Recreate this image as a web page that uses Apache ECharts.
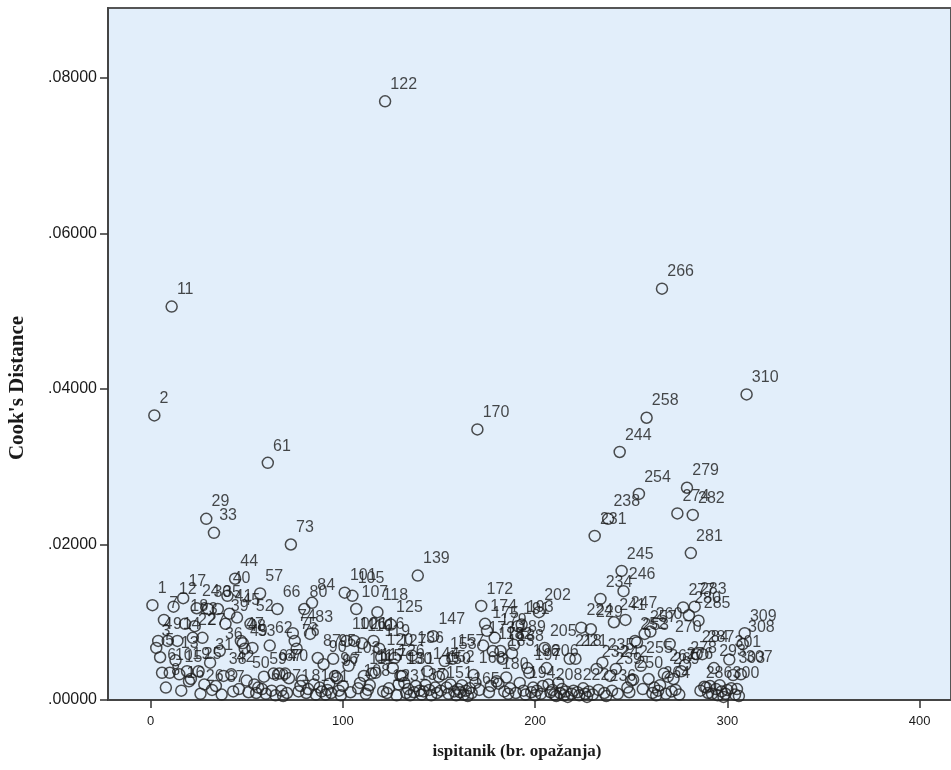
<!DOCTYPE html>
<html>
<head>
<meta charset="utf-8">
<script src="https://cdn.jsdelivr.net/npm/echarts@6/dist/echarts.min.js"></script>
<style>
  html, body { margin: 0; padding: 0; background: #fff; }
  #chart { width: 951px; height: 770px; }
</style>
</head>
<body>
<div id="chart"></div>
<script>
// Cook's distance per case (case 1 .. 310)
var cookD = [
  0.0122, 0.0366, 0.0067, 0.0076, 0.0055, 0.0035, 0.0103, 0.0016, 0.0076, 0.0035,
  0.0506, 0.0120, 0.0051, 0.0076, 0.0033, 0.0012, 0.0131, 0.0098, 0.0037, 0.0024,
  0.0027, 0.0080, 0.0095, 0.0118, 0.0037, 0.0008, 0.0080, 0.0020, 0.0233, 0.0117,
  0.0048, 0.0013, 0.0215, 0.0018, 0.0117, 0.0063, 0.0007, 0.0031, 0.0098, 0.0134,
  0.0111, 0.0033, 0.0011, 0.0156, 0.0106, 0.0014, 0.0076, 0.0073, 0.0066, 0.0025,
  0.0010, 0.0098, 0.0067, 0.0020, 0.0009, 0.0016, 0.0137, 0.0014, 0.0030, 0.0008,
  0.0305, 0.0070, 0.0012, 0.0034, 0.0006, 0.0117, 0.0034, 0.0012, 0.0005, 0.0034,
  0.0009, 0.0028, 0.0200, 0.0086, 0.0076, 0.0066, 0.0011, 0.0018, 0.0025, 0.0117,
  0.0009, 0.0014, 0.0085, 0.0125, 0.0020, 0.0007, 0.0054, 0.0016, 0.0011, 0.0046,
  0.0007, 0.0013, 0.0021, 0.0009, 0.0053, 0.0031, 0.0028, 0.0012, 0.0006, 0.0018,
  0.0138, 0.0076, 0.0044, 0.0010, 0.0134, 0.0076, 0.0117, 0.0015, 0.0022, 0.0073,
  0.0031, 0.0008, 0.0013, 0.0019, 0.0034, 0.0076, 0.0035, 0.0113, 0.0066, 0.0055,
  0.0011, 0.0770, 0.0009, 0.0015, 0.0097, 0.0041, 0.0054, 0.0006, 0.0020, 0.0031,
  0.0031, 0.0022, 0.0009, 0.0014, 0.0006, 0.0057, 0.0010, 0.0018, 0.0160, 0.0012,
  0.0007, 0.0011, 0.0019, 0.0037, 0.0013, 0.0006, 0.0082, 0.0016, 0.0009, 0.0030,
  0.0012, 0.0033, 0.0050, 0.0016, 0.0008, 0.0020, 0.0053, 0.0011, 0.0006, 0.0014,
  0.0010, 0.0019, 0.0007, 0.0012, 0.0005, 0.0015, 0.0009, 0.0032, 0.0022, 0.0348,
  0.0013, 0.0121, 0.0070, 0.0098, 0.0089, 0.0010, 0.0018, 0.0063, 0.0080, 0.0024,
  0.0021, 0.0063, 0.0053, 0.0011, 0.0029, 0.0008, 0.0015, 0.0060, 0.0071, 0.0009,
  0.0095, 0.0022, 0.0097, 0.0012, 0.0007, 0.0041, 0.0035, 0.0010, 0.0016, 0.0006,
  0.0012, 0.0113, 0.0008, 0.0018, 0.0067, 0.0041, 0.0020, 0.0010, 0.0013, 0.0007,
  0.0005, 0.0022, 0.0009, 0.0014, 0.0006, 0.0011, 0.0004, 0.0053, 0.0008, 0.0012,
  0.0053, 0.0010, 0.0006, 0.0093, 0.0015, 0.0008, 0.0004, 0.0011, 0.0091, 0.0007,
  0.0211, 0.0040, 0.0013, 0.0130, 0.0048, 0.0009, 0.0005, 0.0233, 0.0031, 0.0012,
  0.0100, 0.0040, 0.0008, 0.0319, 0.0166, 0.0140, 0.0103, 0.0016, 0.0010, 0.0025,
  0.0026, 0.0076, 0.0074, 0.0265, 0.0044, 0.0014, 0.0085, 0.0363, 0.0027, 0.0088,
  0.0009, 0.0016, 0.0006, 0.0012, 0.0019, 0.0529, 0.0034, 0.0008, 0.0030, 0.0072,
  0.0011, 0.0027, 0.0013, 0.0240, 0.0007, 0.0037, 0.0119, 0.0045, 0.0273, 0.0109,
  0.0189, 0.0238, 0.0120, 0.0059, 0.0102, 0.0012, 0.0059, 0.0017, 0.0016, 0.0009,
  0.0018, 0.0008, 0.0041, 0.0014, 0.0006, 0.0019, 0.0011, 0.0004, 0.0008, 0.0013,
  0.0052, 0.0015, 0.0032, 0.0007, 0.0014, 0.0005, 0.0033, 0.0072, 0.0086, 0.0393
];

var xTicks = [0, 100, 200, 300, 400];
var yTicks = [0, 0.02, 0.04, 0.06, 0.08];
var xTitle = 'ispitanik (br. opažanja)';
var yTitle = "Cook's Distance";

var chart = echarts.init(document.getElementById('chart'), null, { renderer: 'canvas' });

// [case number, cook's distance]
var points = cookD.map(function (v, i) { return [i + 1, v]; });
var upper = points.filter(function (p) { return p[1] >= 0.003; });
var lower = points.filter(function (p) { return p[1] < 0.003; });

var sansFont = '"Liberation Sans", Arial, sans-serif';

var labelStyle = {
  show: true,
  formatter: function (p) { return p.value[0]; },
  position: [11.5, -10.5],
  align: 'left',
  verticalAlign: 'middle',
  fontFamily: sansFont,
  fontSize: 16,
  color: '#1a1a1a'
};

function makeSeries(data, hide) {
  return {
    type: 'scatter',
    data: data,
    symbol: 'circle',
    symbolSize: 11,
    silent: true,
    itemStyle: {
      color: 'rgba(0,0,0,0)',
      borderColor: '#222',
      borderWidth: 1.5
    },
    label: labelStyle,
    labelLayout: hide ? { hideOverlap: true } : null
  };
}

var option = {
  animation: false,
  grid: {
    left: 108,
    right: 0,
    top: 8,
    bottom: 70,
    show: true,
    backgroundColor: '#E2EEFA',
    borderColor: '#555',
    borderWidth: 2
  },
  xAxis: {
    type: 'value',
    min: -22.1,
    max: 416.3,
    axisLine: { show: true, onZero: false, lineStyle: { color: '#444', width: 2 } },
    axisTick: { show: true, customValues: xTicks, length: 8, lineStyle: { color: '#333', width: 1.5 } },
    axisLabel: {
      customValues: xTicks,
      fontFamily: sansFont,
      fontSize: 13,
      color: '#1a1a1a',
      margin: 15
    },
    splitLine: { show: false }
  },
  yAxis: {
    type: 'value',
    min: 0,
    max: 0.089,
    axisLine: { show: true, onZero: false, lineStyle: { color: '#444', width: 2 } },
    axisTick: { show: true, customValues: yTicks, length: 8, lineStyle: { color: '#333', width: 1.5 } },
    axisLabel: {
      customValues: yTicks,
      formatter: function (v) { return v.toFixed(5).replace(/^0/, ''); },
      fontFamily: sansFont,
      fontSize: 16,
      color: '#1a1a1a',
      margin: 11
    },
    splitLine: { show: false }
  },
  graphic: [
    {
      type: 'text',
      x: 18,
      y: 388,
      rotation: Math.PI / 2,
      style: {
        text: yTitle,
        font: 'bold 21px "Liberation Serif", "Times New Roman", serif',
        fill: '#1a1a1a',
        textAlign: 'center',
        textVerticalAlign: 'middle'
      }
    },
    {
      type: 'text',
      x: 517,
      y: 752,
      style: {
        text: xTitle,
        font: 'bold 17px "Liberation Serif", "Times New Roman", serif',
        fill: '#1a1a1a',
        textAlign: 'center',
        textVerticalAlign: 'middle'
      }
    }
  ],
  series: [makeSeries(upper, false), makeSeries(lower, true)]
};

chart.setOption(option);
</script>
</body>
</html>
